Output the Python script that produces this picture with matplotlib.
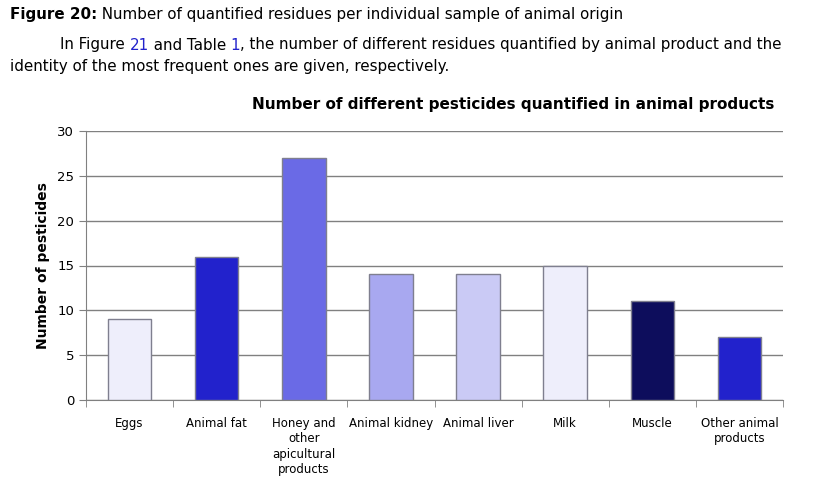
import matplotlib
matplotlib.use("Agg")
import matplotlib.pyplot as plt
import numpy as np

categories = ["Eggs", "Animal fat", "Honey and\nother\napicultural\nproducts", "Animal kidney",
              "Animal liver", "Milk", "Muscle", "Other animal\nproducts"]
values = [9, 16, 27, 14, 14, 15, 11, 7]
colors = ["#EEEEFB", "#2222CC", "#6A6AE6", "#A8A8F0", "#CACAF5", "#EEEEFB", "#0D0D5C", "#2222CC"]
yticks = [0, 5, 10, 15, 20, 25, 30]

plt.rcParams['font.family'] = ['DejaVu Sans']
fig = plt.figure(figsize=(8.24, 4.97), dpi=100)
ax = fig.add_axes([86/824, 1-400/497, (783-86)/824, (400-131)/497])

x = np.arange(len(categories))
ax.bar(x, values, width=0.5, color=colors, edgecolor="#7F7F8F", linewidth=1, zorder=3)
ax.set_xlim(-0.5, len(categories) - 0.5)
ax.set_ylim(0, 30)
ax.set_yticks(yticks)
ax.yaxis.grid(True, color="#808080", linewidth=1, zorder=0)
ax.set_axisbelow(True)
for s in ["top", "right"]:
    ax.spines[s].set_visible(False)
for s in ["left", "bottom"]:
    ax.spines[s].set_color("#808080")
ax.set_xticks(x)
ax.set_xticklabels(categories, fontsize=8.5, linespacing=1.25, va="top")
ax.set_xticks(np.arange(-0.5, len(categories)), minor=True)
ax.tick_params(axis="x", which="major", length=0, pad=12)
ax.tick_params(axis="x", which="minor", length=5, color="#808080")
ax.tick_params(axis="y", length=5, color="#808080", labelsize=9.5)
ax.set_ylabel("Number of pesticides", fontsize=10, fontweight="bold", labelpad=5)
ax.set_title("Number of different pesticides quantified in animal products",
             fontsize=11, fontweight="bold", pad=16, x=0.613)

fs = 10.9
fig.canvas.draw()
renderer = fig.canvas.get_renderer()

def runs(parts, x0, y0):
    xpos = x0
    for s, c, w in parts:
        tt = fig.text(xpos/824, 1-y0/497, s, fontsize=fs, va="center", color=c, fontweight=w)
        bb = tt.get_window_extent(renderer=renderer)
        xpos += bb.width

runs([("Figure 20:", "black", "bold"),
      (" Number of quantified residues per individual sample of animal origin", "black", "normal")], 10, 14)
runs([("In Figure ", "black", "normal"), ("21", "#2222CC", "normal"), (" and Table ", "black", "normal"),
      ("1", "#2222CC", "normal"),
      (", the number of different residues quantified by animal product and the", "black", "normal")], 60, 45)
runs([("identity of the most frequent ones are given, respectively.", "black", "normal")], 10, 66)

fig.savefig("out.png", dpi=100)
